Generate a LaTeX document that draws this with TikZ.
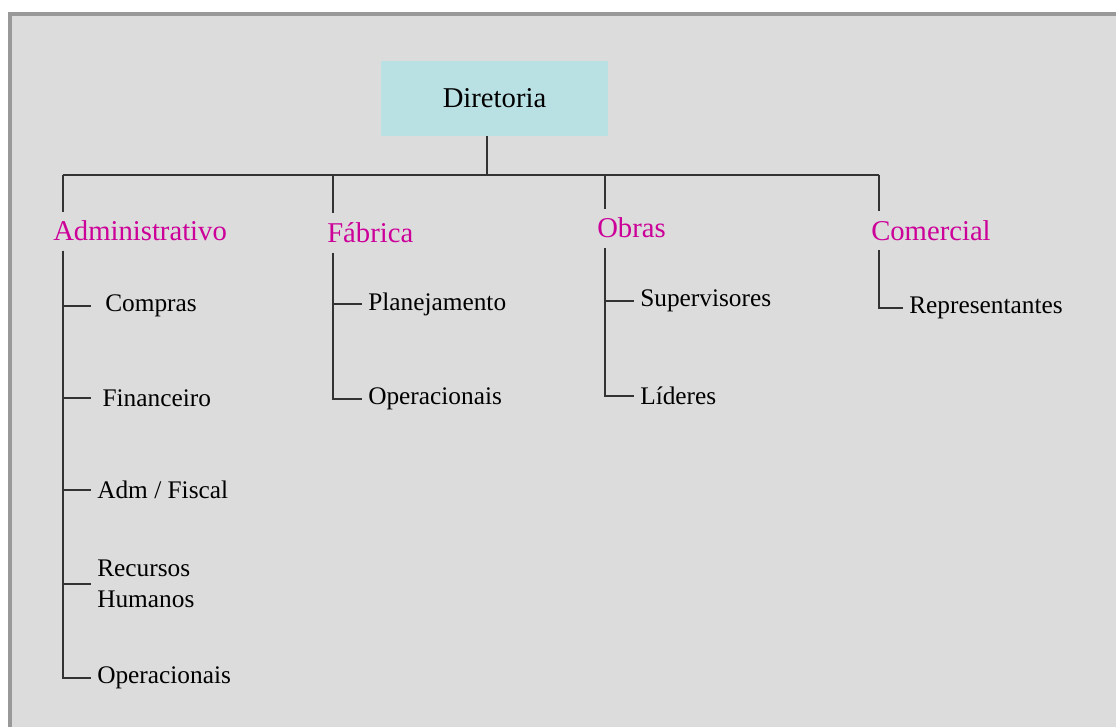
\documentclass[tikz,border=0pt]{standalone}
\usepackage{fontspec}
\setmainfont{Liberation Serif}
\definecolor{headpink}{RGB}{204,0,153}
\definecolor{boxcyan}{RGB}{185,224,227}
\definecolor{panel}{RGB}{220,220,220}
\definecolor{rim}{RGB}{153,153,153}
\begin{document}
\begin{tikzpicture}[
  x=0.75pt, y=-0.75pt,
  topbox/.style={fill=boxcyan, minimum width=170.25pt, minimum height=56.25pt,
                 inner sep=0pt, font=\fontsize{21.5}{26}\selectfont},
  head/.style={anchor=base west, inner xsep=0pt, inner ysep=7pt, text=headpink,
               font=\fontsize{21.5}{26}\selectfont},
  item/.style={anchor=west, inner xsep=4.5pt, inner ysep=2pt, align=left,
               font=\fontsize{19}{23}\selectfont},
  wire/.style={line width=1pt, draw=black!80},
]
% page and panel
\fill[white] (0,0) rectangle (1116,727);
\fill[rim]   (8,12) rectangle (1116,727);
\fill[panel] (12,16) rectangle (1116,727);

\node[topbox] (dir) at (494.5,98.5) {Diretoria};

\node[head] (adm) at (53,241)  {Administrativo};
\node[head] (fab) at (327,243) {Fábrica};
\node[head] (obr) at (597,238) {Obras};
\node[head] (com) at (871,240) {Comercial};

\node[item] (compras) at (91,306) {\hspace{6pt}Compras};
\node[item] (fin)     at (91,398) {\hspace{4pt}Financeiro};
\node[item] (fisc)    at (91,490) {Adm / Fiscal};
\node[item] (rh)      at (91,584) {Recursos\\Humanos};
\node[item] (opa)     at (91,678) {Operacionais};

\node[item] (plan) at (362,304) {Planejamento};
\node[item] (opf)  at (362,399) {Operacionais};

\node[item] (sup) at (634,301) {Supervisores};
\node[item] (lid) at (634,396) {Líderes};

\node[item] (rep) at (903,308) {Representantes};

% bus from the top box
\coordinate (bus) at (487,175);
\coordinate (ta) at (63,175);
\coordinate (tf) at (333,175);
\coordinate (to) at (605,175);
\coordinate (tc) at (879,175);

\draw[wire] (dir.south -| bus) -- (bus);
\draw[wire] (ta) -- (tc);
\draw[wire] (ta) -- (ta |- adm.north);
\draw[wire] (tf) -- (tf |- fab.north);
\draw[wire] (to) -- (to |- obr.north);
\draw[wire] (tc) -- (tc |- com.north);

% branches
\foreach \n in {compras,fin,fisc,rh,opa}
  \draw[wire] (ta |- adm.south) |- (\n.west);
\foreach \n in {plan,opf}
  \draw[wire] (tf |- fab.south) |- (\n.west);
\foreach \n in {sup,lid}
  \draw[wire] (to |- obr.south) |- (\n.west);
\draw[wire] (tc |- com.south) |- (rep.west);
\end{tikzpicture}
\end{document}
